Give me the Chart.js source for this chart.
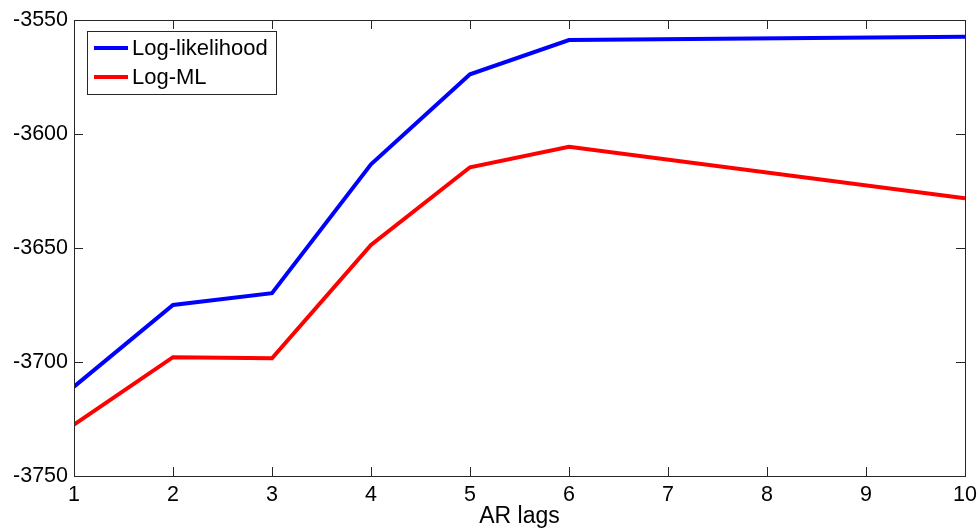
<!DOCTYPE html>
<html>
<head>
<meta charset="utf-8">
<script src="https://cdn.jsdelivr.net/npm/chart.js@4.4.1/dist/chart.umd.min.js"></script>
<style>
  html, body { margin: 0; padding: 0; background: #fff; }
  #wrap { width: 977px; height: 528px; }
</style>
</head>
<body>
<div id="wrap"><canvas id="chart" width="977" height="528"></canvas></div>
<script>
// AR lags and the two scores
const lags = [1, 2, 3, 4, 5, 6, 10];
const logLik = [-3710.8, -3675.0, -3669.8, -3613.3, -3573.8, -3558.8, -3557.3];
const logML = [-3727.5, -3697.9, -3698.4, -3648.7, -3614.6, -3605.6, -3628.2];
const xTicks = [1, 2, 3, 4, 5, 6, 7, 8, 9, 10];
const yTicks = [-3750, -3700, -3650, -3600, -3550];

const FONT = "Liberation Sans, Arial, sans-serif";
const AXIS = "#262626";

function toPoints(ys) {
  return lags.map((x, i) => ({ x: x, y: ys[i] }));
}

// MATLAB style box with inward ticks on all four sides
const boxPlugin = {
  id: "box",
  afterDatasetsDraw(chart) {
    const ctx = chart.ctx;
    const a = chart.chartArea;
    const xs = chart.scales.x, ys = chart.scales.y;
    const len = 9;
    ctx.save();
    ctx.strokeStyle = AXIS;
    ctx.lineWidth = 1;
    ctx.beginPath();
    xTicks.forEach(v => {
      const px = Math.round(xs.getPixelForValue(v)) + 0.5;
      ctx.moveTo(px, a.bottom); ctx.lineTo(px, a.bottom - len);
      ctx.moveTo(px, a.top); ctx.lineTo(px, a.top + len);
    });
    yTicks.forEach(v => {
      const py = Math.round(ys.getPixelForValue(v)) + 0.5;
      ctx.moveTo(a.left, py); ctx.lineTo(a.left + len, py);
      ctx.moveTo(a.right, py); ctx.lineTo(a.right - len, py);
    });
    ctx.stroke();
    ctx.strokeRect(Math.round(a.left) + 0.5, Math.round(a.top) + 0.5,
      Math.round(a.right - a.left), Math.round(a.bottom - a.top));
    ctx.restore();
  }
};

// legend box in the upper left of the axes
const legendPlugin = {
  id: "boxLegend",
  afterDraw(chart) {
    const ctx = chart.ctx;
    const a = chart.chartArea;
    const sets = chart.data.datasets;
    ctx.save();
    ctx.font = "22px " + FONT;
    let w = 0;
    sets.forEach(d => { w = Math.max(w, ctx.measureText(d.label).width); });
    const left = a.left + 13, top = a.top + 11;
    const boxW = 45 + w + 8, boxH = 63;
    ctx.fillStyle = "#fff";
    ctx.fillRect(left, top, boxW, boxH);
    ctx.strokeStyle = AXIS;
    ctx.lineWidth = 1;
    ctx.strokeRect(Math.round(left) + 0.5, Math.round(top) + 0.5, Math.round(boxW), boxH);
    sets.forEach((d, i) => {
      const cy = top + 17 + i * 29;
      ctx.strokeStyle = d.borderColor;
      ctx.lineWidth = 4;
      ctx.beginPath();
      ctx.moveTo(left + 7, cy); ctx.lineTo(left + 41, cy);
      ctx.stroke();
      ctx.fillStyle = "#000";
      ctx.textBaseline = "middle";
      ctx.fillText(d.label, left + 45, cy + 1);
    });
    ctx.restore();
  }
};

new Chart(document.getElementById("chart"), {
  type: "line",
  data: {
    datasets: [
      { label: "Log-likelihood", data: toPoints(logLik), borderColor: "#0000ff", borderWidth: 4, pointRadius: 0, tension: 0 },
      { label: "Log-ML", data: toPoints(logML), borderColor: "#ff0000", borderWidth: 4, pointRadius: 0, tension: 0 }
    ]
  },
  options: {
    responsive: false,
    animation: false,
    layout: { padding: { top: 20, right: 0, left: 0, bottom: 0 } },
    plugins: { legend: { display: false }, tooltip: { enabled: false } },
    scales: {
      x: {
        type: "linear",
        min: 1,
        max: 10,
        afterFit(s) { s.height = 52; s.paddingLeft = 0; s.paddingRight = 12; },
        afterBuildTicks(s) { s.ticks = xTicks.map(v => ({ value: v })); },
        grid: { display: false, drawTicks: false },
        border: { display: false },
        ticks: { color: "#000", padding: 6, maxRotation: 0, font: { family: FONT, size: 21.5 } },
        title: { display: true, text: "AR lags", color: "#000", padding: { top: 0, bottom: -2 }, font: { family: FONT, size: 23 } }
      },
      y: {
        min: -3750,
        max: -3550,
        afterFit(s) { s.width = 74; s.paddingTop = 0; s.paddingBottom = 0; },
        afterBuildTicks(s) { s.ticks = yTicks.map(v => ({ value: v })); },
        grid: { display: false, drawTicks: false },
        border: { display: false },
        ticks: { color: "#000", padding: 6, font: { family: FONT, size: 21.5 }, callback: v => String(v) }
      }
    }
  },
  plugins: [boxPlugin, legendPlugin]
});
</script>
</body>
</html>
